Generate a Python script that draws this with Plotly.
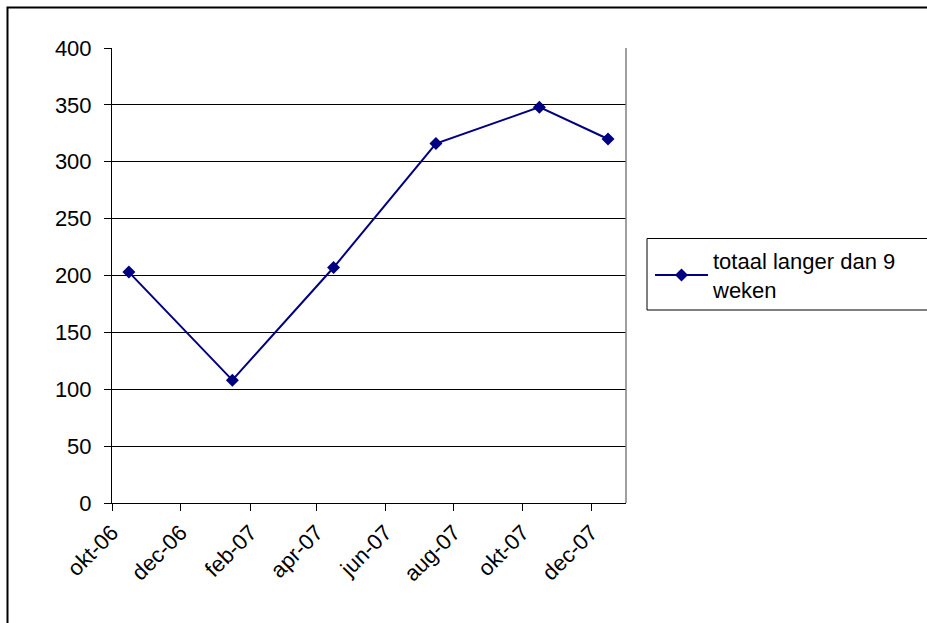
import plotly.graph_objects as go

dates = ["2006-10-16", "2007-01-16", "2007-04-16", "2007-07-16", "2007-10-16", "2007-12-16"]
values = [203, 108, 207, 316, 348, 320]
series_name = "totaal langer dan 9<br>weken"

tick_dates = ["2006-10-01", "2006-12-01", "2007-02-01", "2007-04-01",
              "2007-06-01", "2007-08-01", "2007-10-01", "2007-12-01"]
tick_labels = ["okt-06", "dec-06", "feb-07", "apr-07", "jun-07", "aug-07", "okt-07", "dec-07"]

FONT = "Liberation Sans, Arial, sans-serif"
FS = 22
NAVY = "#000080"

fig = go.Figure()
fig.add_trace(go.Scatter(
    x=dates, y=values, mode="lines+markers", name=series_name,
    line=dict(color=NAVY, width=2),
    marker=dict(symbol="diamond", size=10, color=NAVY),
    showlegend=True,
))

W, H = 927, 623
L, R, T, B = 112, 301, 48, 120
pw, ph = W - L - R, H - T - B

def px_x(p):
    return (p - L) / pw

def px_y(p):
    return (H - B - p) / ph

fig.update_layout(
    width=W, height=H,
    margin=dict(l=L, r=R, t=T, b=B, pad=0),
    paper_bgcolor="white", plot_bgcolor="white",
    font=dict(family=FONT, size=FS, color="black"),
    xaxis=dict(
        type="date", range=["2006-10-01", "2008-01-01"],
        tickmode="array", tickvals=tick_dates, ticktext=tick_labels,
        tickangle=-45, ticks="outside", ticklen=7, tickcolor="black", tickwidth=1,
        showgrid=False, showline=True, linecolor="black", linewidth=1,
        zeroline=False, tickfont=dict(family=FONT, size=FS, color="black"),
    ),
    yaxis=dict(
        range=[0, 400], dtick=50, tick0=0,
        ticks="outside", ticklen=7, tickcolor="black", tickwidth=1,
        showgrid=True, gridcolor="black", gridwidth=1,
        showline=True, linecolor="black", linewidth=1,
        zeroline=False, tickfont=dict(family=FONT, size=FS, color="black"),
        ticklabelstandoff=8,
    ),
    legend=dict(
        x=px_x(650), y=px_y(240), xanchor="left", yanchor="top",
        bgcolor="rgba(0,0,0,0)", borderwidth=0,
        font=dict(family=FONT, size=FS, color="black"),
        itemwidth=53, tracegroupgap=0,
    ),
    shapes=[
        dict(type="line", xref="paper", yref="paper", x0=1, x1=1, y0=0, y1=1,
             line=dict(color="#808080", width=1.5)),
        dict(type="rect", xref="paper", yref="paper",
             x0=px_x(647), x1=px_x(940), y0=px_y(310), y1=px_y(238.5),
             line=dict(color="black", width=1), fillcolor="rgba(0,0,0,0)"),
        dict(type="rect", xref="paper", yref="paper",
             x0=px_x(7.5), x1=px_x(960), y0=px_y(660), y1=px_y(7.5),
             line=dict(color="black", width=2), fillcolor="rgba(0,0,0,0)"),
    ],
)

fig.write_html("out.html",
               config={"displayModeBar": False},
               post_script="document.body.style.margin='0';document.body.style.overflow='hidden';")
